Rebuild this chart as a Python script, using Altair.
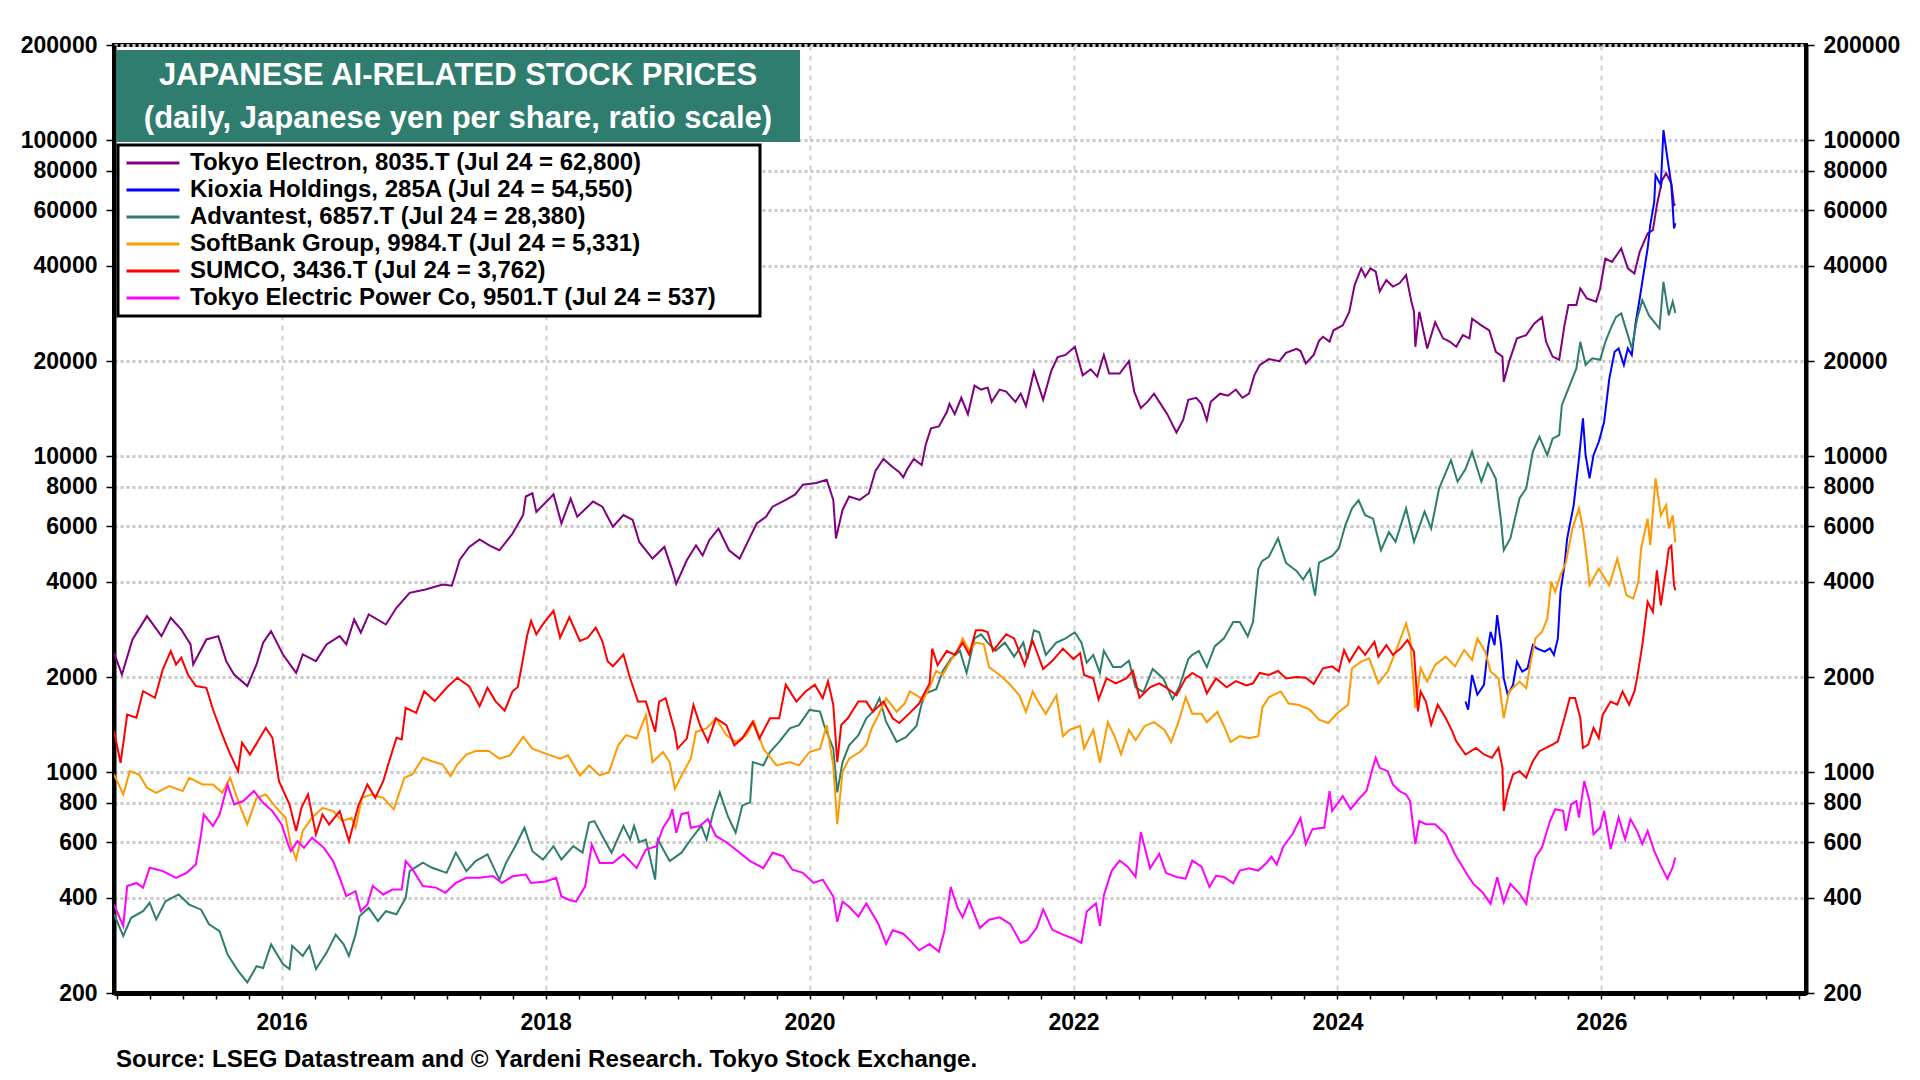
import altair as alt
import pandas as pd

# ---------------- data ----------------
NAMES = [
    "Tokyo Electron, 8035.T (Jul 24 = 62,800)",
    "Kioxia Holdings, 285A (Jul 24 = 54,550)",
    "Advantest, 6857.T (Jul 24 = 28,380)",
    "SoftBank Group, 9984.T (Jul 24 = 5,331)",
    "SUMCO, 3436.T (Jul 24 = 3,762)",
    "Tokyo Electric Power Co, 9501.T (Jul 24 = 537)",
]
COLORS = ["#800080", "#0000ff", "#2e7d6e", "#ff9900", "#ff0000", "#ff00ff"]

TEL_T = [2014.73, 2014.79, 2014.87, 2014.98, 2015.09, 2015.16, 2015.24, 2015.31, 2015.33, 2015.43,
         2015.52, 2015.58, 2015.64, 2015.74, 2015.81, 2015.86, 2015.92, 2016.01, 2016.11, 2016.16,
         2016.26, 2016.34, 2016.44, 2016.49, 2016.55, 2016.60, 2016.66, 2016.79, 2016.87, 2016.97,
         2017.09, 2017.22, 2017.29, 2017.35, 2017.42, 2017.50, 2017.58, 2017.65, 2017.75, 2017.83,
         2017.85, 2017.90, 2017.93, 2018.03, 2018.06, 2018.12, 2018.19, 2018.24, 2018.36, 2018.43,
         2018.51, 2018.59, 2018.66, 2018.71, 2018.81, 2018.90, 2018.96, 2018.99, 2019.07, 2019.14,
         2019.19, 2019.24, 2019.31, 2019.39, 2019.47, 2019.55, 2019.60, 2019.67, 2019.72, 2019.82,
         2019.89, 2019.95, 2020.05, 2020.13, 2020.18, 2020.20, 2020.25, 2020.30, 2020.38, 2020.45,
         2020.50, 2020.56, 2020.62, 2020.68, 2020.71, 2020.74, 2020.79, 2020.85, 2020.88, 2020.92,
         2020.98, 2021.04, 2021.06, 2021.10, 2021.15, 2021.20, 2021.25, 2021.30, 2021.35, 2021.38,
         2021.44, 2021.49, 2021.56, 2021.60, 2021.64, 2021.70, 2021.77, 2021.83, 2021.88, 2021.94,
         2022.01, 2022.07, 2022.13, 2022.18, 2022.23, 2022.27, 2022.35, 2022.42, 2022.46, 2022.51,
         2022.56, 2022.61, 2022.66, 2022.71, 2022.78, 2022.83, 2022.87, 2022.93, 2022.97, 2023.01,
         2023.04, 2023.11, 2023.17, 2023.23, 2023.28, 2023.33, 2023.37, 2023.41, 2023.48, 2023.56,
         2023.61, 2023.69, 2023.72, 2023.76, 2023.82, 2023.86, 2023.89, 2023.94, 2023.97, 2024.04,
         2024.09, 2024.13, 2024.18, 2024.21, 2024.25, 2024.29, 2024.32, 2024.37, 2024.42, 2024.47,
         2024.52, 2024.56, 2024.58, 2024.59, 2024.62, 2024.68, 2024.74, 2024.80, 2024.85, 2024.90,
         2024.95, 2025.00, 2025.02, 2025.09, 2025.15, 2025.20, 2025.25, 2025.26, 2025.30, 2025.36,
         2025.43, 2025.49, 2025.55, 2025.58, 2025.63, 2025.68, 2025.72, 2025.75, 2025.81, 2025.84,
         2025.89, 2025.96, 2025.99, 2026.03, 2026.08, 2026.15, 2026.20, 2026.25, 2026.29, 2026.35,
         2026.39, 2026.42, 2026.46, 2026.49, 2026.53, 2026.55, 2026.56]
TEL_V = [2387, 2037, 2630, 3117, 2694, 3078, 2827, 2536, 2191, 2630,
         2694, 2245, 2037, 1872, 2191, 2566, 2793, 2357, 2062, 2357,
         2245, 2536, 2694, 2536, 3041, 2765, 3155, 2932, 3311, 3694,
         3785, 3925, 3890, 4700, 5150, 5450, 5200, 5036, 5690, 6510,
         7450, 7630, 6660, 7340, 7570, 6120, 7340, 6430, 7180, 6920,
         5980, 6510, 6280, 5350, 4740, 5160, 4350, 3940, 4680, 5220,
         4850, 5420, 5900, 5036, 4740, 5550, 6120, 6430, 6920, 7270,
         7550, 8120, 8220, 8420, 7270, 5490, 6760, 7450, 7270, 7630,
         9000, 9800, 9300, 8900, 8570, 9090, 9800, 9370, 10870, 12240,
         12420, 13790, 14630, 13580, 15300, 13580, 16710, 16240, 16470, 14850,
         16240, 16000, 14850, 15760, 14410, 18540, 15070, 18540, 20590, 20900,
         22180, 18010, 18830, 17850, 20900, 18250, 18250, 19980, 16000, 14200,
         14850, 15760, 14630, 13580, 11880, 12990, 15070, 15300, 14630, 12990,
         14850, 15760, 15530, 16240, 15300, 15760, 18010, 19400, 20280, 19980,
         21210, 21850, 21500, 19640, 20900, 23170, 23870, 23040, 25010, 25930,
         28630, 34770, 39270, 36940, 39270, 38330, 33200, 36070, 34400, 35230,
         37400, 30830, 28630, 22180, 28630, 21920, 26550, 23590, 23040, 22180,
         24150, 23590, 27200, 25930, 25010, 21390, 20660, 17180, 19870, 23590,
         24150, 26250, 27530, 23040, 20660, 20180, 25930, 30080, 30080, 33940,
         31540, 30830, 33940, 42210, 41180, 45400, 39270, 37850, 44340, 50660,
         51910, 62250, 74700, 78470, 72930, 62250, 62800]

KIOXIA_T = [2024.97, 2024.99, 2025.02, 2025.06, 2025.11, 2025.14, 2025.16, 2025.19, 2025.21, 2025.24,
            2025.26, 2025.29, 2025.33, 2025.36, 2025.40, 2025.44, 2025.48, 2025.51, 2025.57, 2025.61,
            2025.64, 2025.67, 2025.69, 2025.72, 2025.74, 2025.76, 2025.79, 2025.83, 2025.86, 2025.88,
            2025.91, 2025.94, 2025.98, 2026.02, 2026.06, 2026.10, 2026.13, 2026.17, 2026.20, 2026.23,
            2026.26, 2026.29, 2026.31, 2026.35, 2026.37, 2026.40, 2026.41, 2026.45, 2026.47, 2026.50,
            2026.53, 2026.55, 2026.56]
KIOXIA_V = [1673, 1576, 2030, 1758, 1888, 2465, 2780, 2524, 3140, 2524,
            1983, 1758, 1888, 2236, 2080, 2130, 2524, 2465, 2405, 2465,
            2350, 2650, 3718, 4510, 5470, 6050, 7000, 9840, 13160, 10070,
            8510, 10070, 11100, 12800, 17620, 21390, 21920, 19420, 21920, 20900,
            26550, 31540, 35650, 45400, 53850, 63800, 77500, 72000, 107560, 87500,
            72000, 52560, 54550]

ADV_T = [2014.73, 2014.80, 2014.86, 2014.95, 2015.00, 2015.05, 2015.12, 2015.22, 2015.30, 2015.39,
         2015.45, 2015.53, 2015.59, 2015.67, 2015.74, 2015.81, 2015.86, 2015.92, 2016.01, 2016.06,
         2016.08, 2016.16, 2016.21, 2016.26, 2016.34, 2016.41, 2016.47, 2016.51, 2016.56, 2016.59,
         2016.66, 2016.73, 2016.79, 2016.87, 2016.94, 2016.97, 2017.07, 2017.14, 2017.25, 2017.32,
         2017.40, 2017.47, 2017.56, 2017.65, 2017.70, 2017.77, 2017.84, 2017.90, 2017.98, 2018.06,
         2018.12, 2018.21, 2018.28, 2018.33, 2018.37, 2018.43, 2018.50, 2018.59, 2018.64, 2018.67,
         2018.71, 2018.76, 2018.83, 2018.85, 2018.94, 2019.03, 2019.10, 2019.18, 2019.22, 2019.27,
         2019.32, 2019.38, 2019.44, 2019.49, 2019.55, 2019.57, 2019.65, 2019.70, 2019.77, 2019.85,
         2019.92, 2020.00, 2020.08, 2020.11, 2020.18, 2020.21, 2020.25, 2020.30, 2020.37, 2020.43,
         2020.48, 2020.53, 2020.58, 2020.66, 2020.73, 2020.81, 2020.85, 2020.88, 2020.96, 2021.01,
         2021.07, 2021.14, 2021.19, 2021.25, 2021.30, 2021.35, 2021.41, 2021.48, 2021.55, 2021.62,
         2021.65, 2021.70, 2021.74, 2021.79, 2021.87, 2021.94, 2022.01, 2022.06, 2022.10, 2022.15,
         2022.20, 2022.23, 2022.30, 2022.36, 2022.42, 2022.47, 2022.53, 2022.60, 2022.68, 2022.71,
         2022.75, 2022.80, 2022.87, 2022.90, 2022.95, 2023.01, 2023.07, 2023.14, 2023.21, 2023.26,
         2023.32, 2023.36, 2023.40, 2023.43, 2023.48, 2023.55, 2023.61, 2023.69, 2023.74, 2023.79,
         2023.83, 2023.86, 2023.96, 2024.01, 2024.06, 2024.11, 2024.16, 2024.21, 2024.27, 2024.33,
         2024.39, 2024.44, 2024.52, 2024.58, 2024.66, 2024.71, 2024.77, 2024.86, 2024.91, 2024.97,
         2025.02, 2025.09, 2025.14, 2025.20, 2025.24, 2025.26, 2025.31, 2025.38, 2025.43, 2025.48,
         2025.53, 2025.59, 2025.63, 2025.68, 2025.70, 2025.76, 2025.81, 2025.84, 2025.88, 2025.93,
         2025.99, 2026.03, 2026.07, 2026.11, 2026.15, 2026.20, 2026.23, 2026.27, 2026.31, 2026.36,
         2026.44, 2026.47, 2026.51, 2026.54, 2026.56]
ADV_V = [355, 303, 346, 363, 386, 342, 390, 410, 381, 367,
         330, 314, 265, 235, 216, 243, 240, 285, 247, 238,
         282, 262, 282, 238, 268, 306, 285, 262, 306, 350,
         372, 338, 363, 355, 400, 486, 517, 498, 480, 556,
         486, 523, 549, 457, 516, 583, 667, 562, 529, 583,
         529, 583, 556, 693, 700, 628, 556, 676, 612, 676,
         600, 612, 457, 612, 523, 556, 612, 676, 612, 745,
         863, 727, 643, 783, 802, 1076, 1050, 1158, 1247, 1375,
         1409, 1573, 1554, 1409, 1187, 863, 1076, 1216, 1309, 1480,
         1554, 1714, 1444, 1247, 1290, 1400, 1648, 1775, 1830, 2090,
         2280, 2420, 2060, 2650, 2730, 2570, 2420, 2570, 2320, 2570,
         2280, 2810, 2770, 2350, 2570, 2650, 2770, 2570, 2220, 2350,
         2060, 2420, 2150, 2150, 2250, 1855, 1790, 2120, 1980, 1855,
         1700, 1855, 2280, 2350, 2420, 2150, 2500, 2650, 2985, 2985,
         2690, 2985, 4390, 4660, 4800, 5490, 4590, 4330, 4070, 4390,
         3620, 4600, 4830, 5100, 6050, 6830, 7250, 6500, 6340, 5040,
         5750, 5360, 6830, 5360, 6670, 5900, 7900, 9710, 8300, 9100,
         10330, 8300, 9500, 8470, 6200, 5040, 5490, 7360, 7900, 10330,
         11510, 10070, 11350, 11660, 14500, 16790, 18950, 23000, 19420, 20400,
         20180, 23000, 25340, 27530, 28280, 24150, 21920, 27200, 31160, 27880,
         25340, 35620, 27880, 30830, 28380]

SB_T = [2014.73, 2014.80, 2014.85, 2014.92, 2014.98, 2015.05, 2015.15, 2015.25, 2015.30, 2015.40,
        2015.48, 2015.55, 2015.61, 2015.68, 2015.74, 2015.81, 2015.88, 2015.96, 2016.03, 2016.07,
        2016.11, 2016.16, 2016.23, 2016.31, 2016.39, 2016.46, 2016.53, 2016.56, 2016.61, 2016.68,
        2016.77, 2016.85, 2016.93, 2016.99, 2017.07, 2017.14, 2017.22, 2017.28, 2017.33, 2017.40,
        2017.47, 2017.57, 2017.65, 2017.73, 2017.83, 2017.90, 2018.00, 2018.11, 2018.17, 2018.26,
        2018.33, 2018.41, 2018.48, 2018.55, 2018.61, 2018.69, 2018.76, 2018.81, 2018.89, 2018.94,
        2018.98, 2019.03, 2019.10, 2019.14, 2019.22, 2019.29, 2019.37, 2019.44, 2019.52, 2019.58,
        2019.65, 2019.75, 2019.85, 2019.92, 2020.00, 2020.08, 2020.13, 2020.18, 2020.21, 2020.25,
        2020.30, 2020.38, 2020.43, 2020.47, 2020.51, 2020.58, 2020.66, 2020.72, 2020.76, 2020.81,
        2020.86, 2020.91, 2020.96, 2021.01, 2021.06, 2021.12, 2021.16, 2021.21, 2021.26, 2021.32,
        2021.36, 2021.44, 2021.51, 2021.59, 2021.64, 2021.69, 2021.74, 2021.79, 2021.87, 2021.92,
        2021.97, 2022.05, 2022.08, 2022.15, 2022.20, 2022.26, 2022.31, 2022.36, 2022.42, 2022.47,
        2022.54, 2022.61, 2022.69, 2022.74, 2022.80, 2022.85, 2022.90, 2022.97, 2023.01, 2023.09,
        2023.14, 2023.19, 2023.26, 2023.33, 2023.40, 2023.43, 2023.48, 2023.57, 2023.63, 2023.71,
        2023.79, 2023.86, 2023.93, 2024.00, 2024.08, 2024.11, 2024.18, 2024.24, 2024.31, 2024.38,
        2024.45, 2024.52, 2024.55, 2024.59, 2024.63, 2024.68, 2024.74, 2024.82, 2024.89, 2024.96,
        2025.02, 2025.06, 2025.12, 2025.16, 2025.22, 2025.26, 2025.30, 2025.38, 2025.43, 2025.46,
        2025.50, 2025.55, 2025.59, 2025.62, 2025.65, 2025.69, 2025.73, 2025.78, 2025.83, 2025.86,
        2025.89, 2025.91, 2025.98, 2026.06, 2026.12, 2026.19, 2026.24, 2026.28, 2026.30, 2026.35,
        2026.37, 2026.41, 2026.45, 2026.49, 2026.51, 2026.54, 2026.56]
SB_V = [983, 850, 1007, 983, 892, 860, 903, 871, 960, 914,
        914, 860, 960, 790, 683, 829, 850, 771, 717, 590,
        530, 651, 717, 771, 753, 700, 717, 667, 829, 850,
        829, 762, 960, 983, 1110, 1083, 1057, 971, 1057, 1137,
        1166, 1166, 1103, 1130, 1293, 1187, 1144, 1103, 1130, 976,
        1050, 976, 1000, 1216, 1309, 1277, 1517, 1076, 1158, 1076,
        885, 976, 1103, 1342, 1375, 1480, 1309, 1247, 1309, 1444,
        1187, 1050, 1076, 1050, 1158, 1187, 1409, 1050, 684, 1000,
        1103, 1158, 1216, 1375, 1480, 1714, 1554, 1648, 1800, 1750,
        1700, 1855, 2090, 2030, 2220, 2420, 2650, 2420, 2570, 2540,
        2150, 2030, 1910, 1750, 1550, 1800, 1648, 1530, 1750, 1300,
        1360, 1400, 1188, 1360, 1072, 1440, 1300, 1140, 1360, 1262,
        1400, 1440, 1360, 1245, 1460, 1725, 1530, 1530, 1440, 1550,
        1400, 1245, 1300, 1280, 1300, 1600, 1725, 1800, 1648, 1630,
        1576, 1465, 1430, 1538, 1634, 2132, 2237, 2290, 1912, 2081,
        2465, 2955, 2650, 1595, 2132, 1935, 2184, 2320, 2160, 2435,
        2265, 2650, 2405, 2081, 1983, 1483, 1800, 1935, 1845, 2184,
        2650, 2780, 3064, 4000, 3718, 4200, 4600, 5900, 6830, 5900,
        4720, 3900, 4400, 3900, 4734, 3630, 3540, 4000, 5090, 6340,
        5230, 8500, 6500, 7000, 5900, 6500, 5331]

SUMCO_T = [2014.73, 2014.78, 2014.83, 2014.90, 2014.95, 2015.04, 2015.10, 2015.16, 2015.20, 2015.24,
           2015.29, 2015.35, 2015.43, 2015.48, 2015.54, 2015.60, 2015.67, 2015.70, 2015.76, 2015.82,
           2015.88, 2015.93, 2015.98, 2016.06, 2016.11, 2016.15, 2016.20, 2016.26, 2016.31, 2016.36,
           2016.44, 2016.51, 2016.58, 2016.65, 2016.71, 2016.77, 2016.80, 2016.87, 2016.91, 2016.94,
           2017.02, 2017.08, 2017.16, 2017.25, 2017.33, 2017.42, 2017.50, 2017.56, 2017.62, 2017.69,
           2017.75, 2017.79, 2017.83, 2017.86, 2017.89, 2017.93, 2017.98, 2018.06, 2018.11, 2018.18,
           2018.26, 2018.32, 2018.38, 2018.43, 2018.47, 2018.51, 2018.59, 2018.64, 2018.70, 2018.76,
           2018.83, 2018.86, 2018.91, 2018.98, 2019.00, 2019.07, 2019.12, 2019.17, 2019.23, 2019.29,
           2019.37, 2019.43, 2019.49, 2019.57, 2019.62, 2019.70, 2019.77, 2019.82, 2019.90, 2019.97,
           2020.04, 2020.10, 2020.14, 2020.18, 2020.21, 2020.24, 2020.29, 2020.37, 2020.43, 2020.48,
           2020.56, 2020.63, 2020.68, 2020.76, 2020.83, 2020.91, 2020.93, 2020.97, 2021.04, 2021.10,
           2021.16, 2021.21, 2021.26, 2021.31, 2021.35, 2021.39, 2021.44, 2021.49, 2021.55, 2021.63,
           2021.69, 2021.77, 2021.84, 2021.92, 2022.00, 2022.05, 2022.08, 2022.15, 2022.19, 2022.25,
           2022.32, 2022.40, 2022.45, 2022.50, 2022.58, 2022.65, 2022.70, 2022.78, 2022.85, 2022.90,
           2022.97, 2023.01, 2023.08, 2023.16, 2023.23, 2023.31, 2023.36, 2023.41, 2023.48, 2023.55,
           2023.61, 2023.69, 2023.76, 2023.82, 2023.89, 2023.96, 2024.01, 2024.05, 2024.09, 2024.16,
           2024.21, 2024.28, 2024.31, 2024.37, 2024.42, 2024.48, 2024.53, 2024.58, 2024.61, 2024.63,
           2024.67, 2024.71, 2024.76, 2024.82, 2024.87, 2024.90, 2024.97, 2025.05, 2025.11, 2025.17,
           2025.22, 2025.25, 2025.26, 2025.29, 2025.33, 2025.38, 2025.43, 2025.48, 2025.53, 2025.58,
           2025.63, 2025.67, 2025.72, 2025.76, 2025.80, 2025.84, 2025.86, 2025.90, 2025.94, 2025.98,
           2026.01, 2026.07, 2026.12, 2026.16, 2026.21, 2026.25, 2026.27, 2026.31, 2026.35, 2026.39,
           2026.42, 2026.45, 2026.49, 2026.51, 2026.53, 2026.55, 2026.56]
SUMCO_V = [1348, 1070, 1521, 1486, 1804, 1718, 2113, 2414, 2191, 2300,
           2037, 1872, 1849, 1578, 1348, 1166, 1007, 1239, 1137, 1253,
           1381, 1284, 936, 790, 651, 771, 850, 635, 734, 683,
           753, 605, 780, 914, 829, 936, 1032, 1284, 1269, 1598,
           1540, 1804, 1678, 1849, 1989, 1872, 1618, 1849, 1678, 1565,
           1802, 1860, 2300, 2700, 3010, 2730, 2940, 3240, 2665, 3090,
           2600, 2665, 2867, 2600, 2244, 2163, 2357, 1985, 1672, 1672,
           1342, 1672, 1714, 1342, 1187, 1277, 1632, 1409, 1247, 1480,
           1409, 1216, 1277, 1444, 1277, 1480, 1480, 1891, 1672, 1800,
           1891, 1714, 1938, 1632, 1076, 1409, 1480, 1672, 1672, 1554,
           1672, 1480, 1430, 1540, 1648, 1910, 2460, 2180, 2420, 2350,
           2570, 2350, 2810, 2810, 2770, 2420, 2570, 2730, 2650, 2180,
           2610, 2120, 2250, 2460, 2280, 2380, 2030, 1980, 1700, 1980,
           1910, 1980, 2090, 1720, 1855, 1910, 1855, 1750, 1980, 2060,
           1980, 1775, 1980, 1855, 1940, 1880, 1910, 2060, 2030, 2090,
           1980, 2000, 1990, 1900, 2130, 2160, 2080, 2435, 2237, 2495,
           2350, 2585, 2320, 2524, 2350, 2465, 2617, 2405, 1557, 1800,
           1673, 1413, 1634, 1483, 1346, 1252, 1137, 1193, 1137, 1110,
           1193, 1032, 754, 871, 983, 1007, 960, 1083, 1165, 1193,
           1222, 1252, 1483, 1715, 1715, 1483, 1193, 1222, 1380, 1282,
           1520, 1673, 1634, 1800, 1634, 1800, 1983, 2524, 3460, 3215,
           4350, 3370, 4400, 5090, 5200, 3900, 3762]

TEPCO_T = [2014.73, 2014.80, 2014.83, 2014.90, 2014.95, 2015.00, 2015.10, 2015.20, 2015.28, 2015.35,
           2015.39, 2015.41, 2015.48, 2015.53, 2015.59, 2015.64, 2015.71, 2015.79, 2015.86, 2015.93,
           2016.00, 2016.05, 2016.07, 2016.12, 2016.17, 2016.23, 2016.32, 2016.39, 2016.44, 2016.49,
           2016.56, 2016.60, 2016.65, 2016.69, 2016.77, 2016.84, 2016.91, 2016.94, 2016.99, 2017.07,
           2017.17, 2017.24, 2017.32, 2017.40, 2017.50, 2017.60, 2017.67, 2017.75, 2017.85, 2017.89,
           2018.00, 2018.08, 2018.12, 2018.18, 2018.23, 2018.30, 2018.35, 2018.41, 2018.51, 2018.59,
           2018.69, 2018.76, 2018.84, 2018.89, 2018.94, 2018.96, 2018.99, 2019.03, 2019.08, 2019.10,
           2019.17, 2019.23, 2019.29, 2019.37, 2019.44, 2019.55, 2019.65, 2019.72, 2019.80, 2019.87,
           2019.95, 2020.03, 2020.10, 2020.18, 2020.21, 2020.25, 2020.30, 2020.37, 2020.43, 2020.52,
           2020.58, 2020.63, 2020.71, 2020.76, 2020.83, 2020.91, 2020.98, 2021.02, 2021.07, 2021.12,
           2021.16, 2021.21, 2021.29, 2021.36, 2021.44, 2021.52, 2021.60, 2021.65, 2021.72, 2021.77,
           2021.84, 2021.92, 2022.00, 2022.06, 2022.10, 2022.17, 2022.20, 2022.23, 2022.29, 2022.35,
           2022.41, 2022.47, 2022.51, 2022.58, 2022.65, 2022.70, 2022.78, 2022.85, 2022.90, 2022.97,
           2023.03, 2023.08, 2023.14, 2023.21, 2023.26, 2023.33, 2023.40, 2023.46, 2023.50, 2023.54,
           2023.59, 2023.66, 2023.72, 2023.76, 2023.81, 2023.90, 2023.94, 2023.96, 2024.04, 2024.10,
           2024.17, 2024.22, 2024.26, 2024.29, 2024.32, 2024.38, 2024.42, 2024.47, 2024.52, 2024.55,
           2024.59, 2024.62, 2024.67, 2024.74, 2024.82, 2024.89, 2024.95, 2024.98, 2025.03, 2025.10,
           2025.16, 2025.21, 2025.26, 2025.31, 2025.38, 2025.43, 2025.46, 2025.50, 2025.55, 2025.61,
           2025.65, 2025.71, 2025.73, 2025.77, 2025.81, 2025.83, 2025.87, 2025.91, 2025.94, 2025.99,
           2026.02, 2026.07, 2026.13, 2026.18, 2026.22, 2026.27, 2026.31, 2026.35, 2026.40, 2026.45,
           2026.50, 2026.54, 2026.56]
TEPCO_V = [381, 326, 436, 446, 431, 498, 486, 463, 480, 510,
           635, 734, 675, 734, 914, 790, 810, 871, 800, 753,
           683, 590, 562, 605, 576, 620, 576, 523, 463, 405,
           420, 363, 381, 436, 410, 425, 425, 523, 494, 436,
           431, 415, 446, 463, 463, 469, 446, 468, 474, 446,
           451, 463, 404, 394, 389, 435, 590, 516, 516, 549,
           497, 569, 583, 667, 718, 764, 643, 736, 745, 667,
           676, 710, 628, 600, 569, 523, 497, 556, 542, 491,
           480, 446, 457, 404, 336, 389, 375, 349, 384, 332,
           286, 316, 308, 294, 273, 286, 270, 312, 433, 373,
           347, 391, 321, 341, 347, 331, 288, 294, 321, 368,
           317, 306, 297, 288, 362, 384, 326, 408, 488, 525,
           502, 466, 646, 496, 551, 480, 466, 460, 525, 502,
           433, 470, 466, 445, 488, 496, 488, 515, 540, 510,
           582, 637, 716, 592, 660, 668, 871, 754, 840, 763,
           830, 871, 1007, 1110, 1032, 1007, 914, 871, 850, 810,
           592, 700, 684, 684, 636, 550, 500, 476, 443, 416,
           383, 465, 387, 443, 412, 383, 454, 537, 578, 700,
           763, 754, 652, 791, 810, 718, 937, 810, 636, 668,
           754, 571, 718, 613, 710, 652, 592, 652, 563, 506,
           459, 500, 537]

SERIES = [(TEL_T, TEL_V), (KIOXIA_T, KIOXIA_V), (ADV_T, ADV_V),
          (SB_T, SB_V), (SUMCO_T, SUMCO_V), (TEPCO_T, TEPCO_V)]

Y_TICKS = [200, 400, 600, 800, 1000, 2000, 4000, 6000, 8000, 10000,
           20000, 40000, 60000, 80000, 100000, 200000]
X_DOMAIN = [2014.73, 2027.55]
X_TICKS = [2014.75 + 0.25 * i for i in range(52)]

TITLE_1 = "JAPANESE AI-RELATED STOCK PRICES"
TITLE_2 = "(daily, Japanese yen per share, ratio scale)"
SOURCE = "Source: LSEG Datastream and \u00a9 Yardeni Research. Tokyo Stock Exchange."

# ---------------- build table ----------------
rows = []
for name, (ts, vs) in zip(NAMES, SERIES):
    for t, v in zip(ts, vs):
        rows.append({"series": name, "t": t, "v": v})
df = pd.DataFrame(rows)

FONT = "Liberation Sans"
W, H = 1692, 948

x_scale = alt.Scale(domain=X_DOMAIN, nice=False, zero=False)
y_scale = alt.Scale(type="log", domain=[200, 200000], nice=False)

common_y_axis = dict(
    values=Y_TICKS, format="d", title=None,
    labelFont=FONT, labelFontSize=23, labelFontWeight="bold", labelColor="black",
    labelOverlap=False, labelFlush=False, labelPadding=9,
    tickColor="black", tickSize=8, tickWidth=1.5,
    domainColor="black", domainWidth=4,
)
left_axis = alt.Axis(orient="left", grid=True, gridColor="#c8c8c8",
                     gridDash=[3, 3], gridWidth=3, **common_y_axis)
right_axis = alt.Axis(orient="right", grid=False, **common_y_axis)

x_axis = alt.Axis(
    values=X_TICKS, title=None,
    labelExpr="datum.value % 2 == 0 ? format(datum.value, 'd') : ''",
    labelFont=FONT, labelFontSize=23, labelFontWeight="bold", labelColor="black",
    labelOverlap=False, labelFlush=False, labelPadding=12,
    tickColor="black", tickSize=6, tickWidth=1.5,
    domainColor="black", domainWidth=5,
    grid=True, gridColor="#cfcfcf", gridDash=[5, 5], gridWidth=2,
    gridOpacity=alt.condition("datum.value % 2 == 0", alt.value(1), alt.value(0)),
)

legend = alt.Legend(
    orient="none", legendX=11, legendY=106, title=None,
    symbolType="stroke", symbolSize=2809, symbolStrokeWidth=3, clipHeight=24,
    labelFont=FONT, labelFontSize=24, labelFontWeight="bold", labelColor="black",
    labelLimit=900, labelOffset=9, rowPadding=3, padding=0,
)

lines = alt.Chart(df).mark_line(strokeWidth=2, clip=True).encode(
    x=alt.X("t:Q", scale=x_scale, axis=x_axis),
    y=alt.Y("v:Q", scale=y_scale, axis=left_axis),
    color=alt.Color("series:N", scale=alt.Scale(domain=NAMES, range=COLORS),
                    sort=NAMES, legend=legend),
)

right = alt.Chart(df).mark_line(strokeOpacity=0).encode(
    x=alt.X("t:Q", scale=x_scale, axis=x_axis),
    y=alt.Y("v:Q", scale=y_scale, axis=right_axis),
    detail="series:N",
)

one = alt.Data(values=[{"k": 0}])

title_box = alt.Chart(one).mark_rect(fill="#2e7d6e").encode(
    x=alt.value(2), x2=alt.value(686), y=alt.value(5), y2=alt.value(97))
title_1 = alt.Chart(one).mark_text(
    text=TITLE_1, font=FONT, fontSize=31, fontWeight="bold", color="white",
    align="center", baseline="middle").encode(x=alt.value(344), y=alt.value(31))
title_2 = alt.Chart(one).mark_text(
    text=TITLE_2, font=FONT, fontSize=31, fontWeight="bold", color="white",
    align="center", baseline="middle").encode(x=alt.value(344), y=alt.value(74))

legend_box = alt.Chart(one).mark_rect(fill="white", stroke="black", strokeWidth=3).encode(
    x=alt.value(4), x2=alt.value(646), y=alt.value(100), y2=alt.value(271))

source = alt.Chart(one).mark_text(
    text=SOURCE, font=FONT, fontSize=24, fontWeight="bold", color="black",
    align="left", baseline="middle").encode(x=alt.value(2), y=alt.value(1015))

chart = alt.layer(lines, right, title_box, title_1, title_2, legend_box, source).resolve_axis(
    y="independent"
).properties(
    width=W, height=H,
    autosize=alt.AutoSizeParams(type="none"),
    padding={"left": 106, "top": 37, "right": 98, "bottom": 79},
    background="white",
).configure_view(stroke="black", strokeWidth=4)

chart.save("out.html", embed_options={"renderer": "svg", "actions": False})
